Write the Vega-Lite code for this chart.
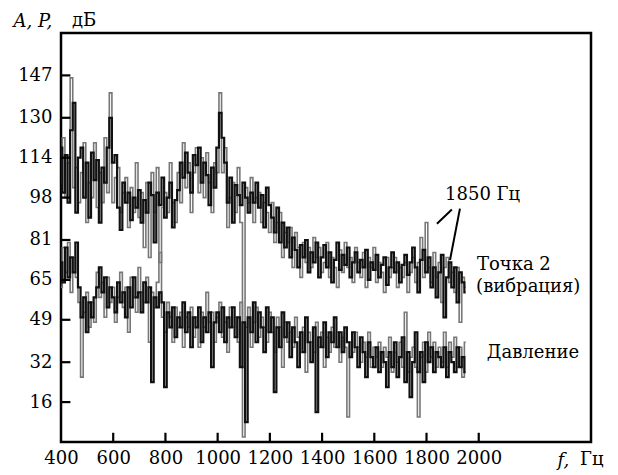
{
  "$schema": "https://vega.github.io/schema/vega-lite/v6.json",
  "width": 530,
  "height": 409,
  "autosize": "none",
  "padding": {"left": 61, "top": 33, "right": 27, "bottom": 33},
  "background": "white",
  "config": {
    "view": {"stroke": "black", "strokeWidth": 2.5},
    "font": "DejaVu Serif",
    "axis": {
      "grid": false,
      "domain": false,
      "ticks": false,
      "labelFont": "DejaVu Serif",
      "labelFontSize": 18,
      "labelColor": "black",
      "titleFont": "DejaVu Serif",
      "titleFontSize": 18,
      "titleFontWeight": "normal",
      "titleFontStyle": "italic",
      "titleColor": "black"
    }
  },
  "datasets": {
    "spec": [
      {"f":400,"a":118,"b":104,"p":72,"q":62},{"f":410,"a":100,"b":122,"p":64,"q":78},{"f":420,"a":115,"b":98,"p":78,"q":68},{"f":430,"a":96,"b":112,"p":66,"q":80},{"f":440,"a":125,"b":146,"p":74,"q":60},
      {"f":450,"a":136,"b":102,"p":68,"q":74},{"f":460,"a":92,"b":110,"p":80,"q":66},{"f":470,"a":114,"b":96,"p":62,"q":56},{"f":480,"a":118,"b":108,"p":50,"q":26},{"f":490,"a":98,"b":120,"p":58,"q":52},
      {"f":500,"a":112,"b":88,"p":44,"q":60},{"f":510,"a":90,"b":104,"p":56,"q":46},{"f":520,"a":116,"b":98,"p":50,"q":56},{"f":530,"a":105,"b":120,"p":58,"q":48},{"f":540,"a":113,"b":94,"p":62,"q":68},
      {"f":550,"a":88,"b":108,"p":70,"q":58},{"f":560,"a":110,"b":96,"p":60,"q":64},{"f":570,"a":104,"b":122,"p":66,"q":50},{"f":580,"a":118,"b":100,"p":54,"q":66},{"f":590,"a":130,"b":140,"p":62,"q":56},
      {"f":600,"a":112,"b":96,"p":58,"q":62},{"f":610,"a":115,"b":106,"p":52,"q":48},{"f":620,"a":94,"b":110,"p":64,"q":58},{"f":630,"a":85,"b":92,"p":56,"q":68},{"f":640,"a":104,"b":100,"p":60,"q":54},
      {"f":650,"a":96,"b":106,"p":50,"q":62},{"f":660,"a":100,"b":86,"p":62,"q":44},{"f":670,"a":89,"b":102,"p":54,"q":66},{"f":680,"a":98,"b":92,"p":66,"q":58},{"f":690,"a":94,"b":112,"p":58,"q":52},
      {"f":700,"a":101,"b":90,"p":60,"q":70},{"f":710,"a":88,"b":100,"p":52,"q":60},{"f":720,"a":97,"b":78,"p":64,"q":56},{"f":730,"a":92,"b":104,"p":56,"q":66},{"f":740,"a":104,"b":74,"p":62,"q":40},
      {"f":750,"a":99,"b":108,"p":24,"q":60},{"f":760,"a":80,"b":92,"p":58,"q":54},{"f":770,"a":100,"b":110,"p":54,"q":64},{"f":780,"a":95,"b":72,"p":60,"q":76},{"f":790,"a":106,"b":94,"p":56,"q":50},
      {"f":800,"a":90,"b":100,"p":22,"q":44},{"f":810,"a":98,"b":92,"p":52,"q":56},{"f":820,"a":104,"b":112,"p":46,"q":50},{"f":830,"a":86,"b":96,"p":54,"q":40},{"f":840,"a":97,"b":88,"p":42,"q":54},
      {"f":850,"a":101,"b":108,"p":50,"q":46},{"f":860,"a":112,"b":96,"p":46,"q":52},{"f":870,"a":106,"b":120,"p":56,"q":38},{"f":880,"a":116,"b":102,"p":44,"q":50},{"f":890,"a":108,"b":112,"p":52,"q":46},
      {"f":900,"a":100,"b":92,"p":38,"q":54},{"f":910,"a":115,"b":108,"p":50,"q":42},{"f":920,"a":111,"b":118,"p":46,"q":50},{"f":930,"a":118,"b":100,"p":54,"q":38},{"f":940,"a":104,"b":114,"p":40,"q":52},
      {"f":950,"a":112,"b":98,"p":50,"q":46},{"f":960,"a":107,"b":116,"p":44,"q":60},{"f":970,"a":95,"b":104,"p":52,"q":48},{"f":980,"a":110,"b":92,"p":30,"q":52},{"f":990,"a":102,"b":112,"p":48,"q":40},
      {"f":1000,"a":118,"b":108,"p":52,"q":50},{"f":1010,"a":132,"b":140,"p":44,"q":56},{"f":1020,"a":122,"b":108,"p":54,"q":42},{"f":1030,"a":112,"b":118,"p":40,"q":48},{"f":1040,"a":96,"b":86,"p":50,"q":36},
      {"f":1050,"a":106,"b":98,"p":46,"q":54},{"f":1060,"a":88,"b":104,"p":54,"q":46},{"f":1070,"a":103,"b":92,"p":42,"q":50},{"f":1080,"a":99,"b":110,"p":50,"q":40},{"f":1090,"a":95,"b":88,"p":30,"q":56},
      {"f":1100,"a":104,"b":30,"p":48,"q":2},{"f":1110,"a":98,"b":102,"p":8,"q":46},{"f":1120,"a":92,"b":96,"p":50,"q":54},{"f":1130,"a":100,"b":106,"p":44,"q":38},{"f":1140,"a":96,"b":88,"p":56,"q":48},
      {"f":1150,"a":104,"b":98,"p":40,"q":54},{"f":1160,"a":94,"b":100,"p":52,"q":42},{"f":1170,"a":99,"b":88,"p":46,"q":50},{"f":1180,"a":86,"b":96,"p":36,"q":46},{"f":1190,"a":102,"b":92,"p":54,"q":40},
      {"f":1200,"a":95,"b":84,"p":44,"q":52},{"f":1210,"a":90,"b":96,"p":50,"q":44},{"f":1220,"a":84,"b":80,"p":20,"q":36},{"f":1230,"a":94,"b":88,"p":46,"q":50},{"f":1240,"a":80,"b":92,"p":38,"q":46},
      {"f":1250,"a":88,"b":74,"p":52,"q":30},{"f":1260,"a":78,"b":84,"p":42,"q":48},{"f":1270,"a":86,"b":80,"p":48,"q":40},{"f":1280,"a":74,"b":86,"p":34,"q":44},{"f":1290,"a":82,"b":70,"p":46,"q":38},
      {"f":1300,"a":77,"b":84,"p":40,"q":50},{"f":1310,"a":70,"b":78,"p":30,"q":42},{"f":1320,"a":79,"b":66,"p":44,"q":36},{"f":1330,"a":74,"b":80,"p":36,"q":46},{"f":1340,"a":81,"b":72,"p":50,"q":28},
      {"f":1350,"a":68,"b":78,"p":40,"q":44},{"f":1360,"a":76,"b":70,"p":32,"q":40},{"f":1370,"a":72,"b":82,"p":46,"q":36},{"f":1380,"a":80,"b":74,"p":12,"q":48},{"f":1390,"a":66,"b":78,"p":42,"q":38},
      {"f":1400,"a":74,"b":68,"p":38,"q":44},{"f":1410,"a":79,"b":72,"p":48,"q":30},{"f":1420,"a":70,"b":80,"p":34,"q":42},{"f":1430,"a":76,"b":66,"p":44,"q":36},{"f":1440,"a":64,"b":74,"p":40,"q":46},
      {"f":1450,"a":73,"b":70,"p":50,"q":38},{"f":1460,"a":80,"b":62,"p":38,"q":44},{"f":1470,"a":69,"b":77,"p":44,"q":32},{"f":1480,"a":75,"b":68,"p":36,"q":42},{"f":1490,"a":71,"b":80,"p":46,"q":38},
      {"f":1500,"a":78,"b":70,"p":40,"q":10},{"f":1510,"a":66,"b":74,"p":34,"q":40},{"f":1520,"a":72,"b":64,"p":44,"q":36},{"f":1530,"a":76,"b":78,"p":38,"q":44},{"f":1540,"a":68,"b":72,"p":30,"q":38},
      {"f":1550,"a":73,"b":66,"p":42,"q":32},{"f":1560,"a":70,"b":76,"p":36,"q":40},{"f":1570,"a":77,"b":62,"p":26,"q":34},{"f":1580,"a":65,"b":74,"p":40,"q":44},{"f":1590,"a":72,"b":70,"p":34,"q":30},
      {"f":1600,"a":69,"b":78,"p":30,"q":38},{"f":1610,"a":75,"b":64,"p":38,"q":34},{"f":1620,"a":66,"b":72,"p":28,"q":40},{"f":1630,"a":71,"b":68,"p":36,"q":30},{"f":1640,"a":74,"b":60,"p":32,"q":38},
      {"f":1650,"a":63,"b":74,"p":22,"q":34},{"f":1660,"a":70,"b":66,"p":36,"q":42},{"f":1670,"a":76,"b":70,"p":30,"q":28},{"f":1680,"a":68,"b":74,"p":40,"q":36},{"f":1690,"a":72,"b":62,"p":26,"q":32},
      {"f":1700,"a":64,"b":70,"p":34,"q":40},{"f":1710,"a":71,"b":66,"p":42,"q":30},{"f":1720,"a":75,"b":72,"p":24,"q":52},{"f":1730,"a":67,"b":60,"p":36,"q":28},{"f":1740,"a":72,"b":68,"p":18,"q":34},
      {"f":1750,"a":78,"b":74,"p":32,"q":38},{"f":1760,"a":70,"b":64,"p":44,"q":30},{"f":1770,"a":60,"b":72,"p":28,"q":10},{"f":1780,"a":73,"b":82,"p":36,"q":34},{"f":1790,"a":77,"b":66,"p":24,"q":40},
      {"f":1800,"a":68,"b":88,"p":40,"q":28},{"f":1810,"a":74,"b":70,"p":32,"q":44},{"f":1820,"a":62,"b":64,"p":38,"q":34},{"f":1830,"a":70,"b":76,"p":28,"q":40},{"f":1840,"a":58,"b":66,"p":36,"q":30},
      {"f":1850,"a":68,"b":72,"p":34,"q":38},{"f":1860,"a":75,"b":56,"p":30,"q":32},{"f":1870,"a":50,"b":70,"p":38,"q":44},{"f":1880,"a":66,"b":74,"p":26,"q":30},{"f":1890,"a":72,"b":64,"p":36,"q":40},
      {"f":1900,"a":62,"b":68,"p":32,"q":34},{"f":1910,"a":70,"b":60,"p":28,"q":42},{"f":1920,"a":56,"b":70,"p":38,"q":30},{"f":1930,"a":68,"b":48,"p":30,"q":38},{"f":1940,"a":64,"b":66,"p":34,"q":26},
      {"f":1950,"a":60,"b":62,"p":28,"q":40}
    ],
    "notes": [
      {"f":1871,"v":99,"t":"1850 Гц"},
      {"f":1993,"v":71,"t":"Точка 2"},
      {"f":1990,"v":62,"t":"(вибрация)"},
      {"f":2031,"v":35.5,"t":"Давление"}
    ],
    "leaders": [
      {"f1":1840,"v1":87.5,"f2":1897,"v2":93.2},
      {"f1":1890,"v1":73,"f2":1928,"v2":93.6}
    ],
    "xticks": [{"f":600},{"f":800},{"f":1000},{"f":1200},{"f":1400},{"f":1600},{"f":1800},{"f":2000}],
    "yticks": [{"v":16},{"v":32},{"v":49},{"v":65},{"v":81},{"v":98},{"v":114},{"v":130},{"v":147}],
    "units": [{"f":2388,"v":-9.3,"t":"Гц"}],
    "yunits": [{"f":400,"v":167,"t":"дБ"}]
  },
  "layer": [
    {
      "data": {"name": "spec"},
      "mark": {"type": "line", "color": "#777777", "strokeWidth": 1.6, "interpolate": "step", "clip": true},
      "encoding": {
        "x": {"field": "f", "type": "quantitative",
              "scale": {"domain": [400, 2430], "nice": false, "zero": false},
              "axis": {"values": [400, 600, 800, 1000, 1200, 1400, 1600, 1800, 2000], "format": "d",
                       "title": "f,", "titleAlign": "left", "titleBaseline": "alphabetic",
                       "titleX": 496, "titleY": 23, "labelPadding": 7, "labelFlush": false}},
        "y": {"field": "b", "type": "quantitative",
              "scale": {"domain": [0, 164], "nice": false},
              "axis": {"values": [16, 32, 49, 65, 81, 98, 114, 130, 147],
                       "title": "A, P,", "titleAngle": 0, "titleAlign": "left", "titleBaseline": "alphabetic",
                       "titleX": -48, "titleY": -7, "labelPadding": 9}}
      }
    },
    {
      "data": {"name": "spec"},
      "mark": {"type": "line", "color": "#777777", "strokeWidth": 1.6, "interpolate": "step", "clip": true},
      "encoding": {
        "x": {"field": "f", "type": "quantitative"},
        "y": {"field": "q", "type": "quantitative"}
      }
    },
    {
      "data": {"name": "spec"},
      "mark": {"type": "line", "color": "#111111", "strokeWidth": 2.2, "interpolate": "step", "clip": true},
      "encoding": {
        "x": {"field": "f", "type": "quantitative"},
        "y": {"field": "a", "type": "quantitative"}
      }
    },
    {
      "data": {"name": "spec"},
      "mark": {"type": "line", "color": "#111111", "strokeWidth": 2.2, "interpolate": "step", "clip": true},
      "encoding": {
        "x": {"field": "f", "type": "quantitative"},
        "y": {"field": "p", "type": "quantitative"}
      }
    },
    {
      "data": {"name": "xticks"},
      "mark": {"type": "rule", "color": "black", "strokeWidth": 2.2},
      "encoding": {
        "x": {"field": "f", "type": "quantitative"},
        "y": {"datum": 0},
        "y2": {"datum": 3.7}
      }
    },
    {
      "data": {"name": "yticks"},
      "mark": {"type": "rule", "color": "black", "strokeWidth": 2.2},
      "encoding": {
        "y": {"field": "v", "type": "quantitative"},
        "x": {"datum": 400},
        "x2": {"datum": 436}
      }
    },
    {
      "data": {"name": "leaders"},
      "mark": {"type": "rule", "color": "black", "strokeWidth": 2},
      "encoding": {
        "x": {"field": "f1", "type": "quantitative"},
        "y": {"field": "v1", "type": "quantitative"},
        "x2": {"field": "f2"},
        "y2": {"field": "v2"}
      }
    },
    {
      "data": {"name": "notes"},
      "mark": {"type": "text", "fontSize": 18, "font": "DejaVu Serif", "color": "black", "baseline": "middle", "align": "left"},
      "encoding": {
        "x": {"field": "f", "type": "quantitative"},
        "y": {"field": "v", "type": "quantitative"},
        "text": {"field": "t"}
      }
    },
    {
      "data": {"name": "units"},
      "mark": {"type": "text", "fontSize": 18, "font": "DejaVu Serif", "color": "black", "baseline": "alphabetic", "align": "left"},
      "encoding": {
        "x": {"field": "f", "type": "quantitative"},
        "y": {"field": "v", "type": "quantitative"},
        "text": {"field": "t"}
      }
    },
    {
      "data": {"name": "yunits"},
      "mark": {"type": "text", "fontSize": 18, "font": "DejaVu Serif", "color": "black", "baseline": "alphabetic", "align": "left", "dx": 11},
      "encoding": {
        "x": {"field": "f", "type": "quantitative"},
        "y": {"field": "v", "type": "quantitative"},
        "text": {"field": "t"}
      }
    }
  ]
}
